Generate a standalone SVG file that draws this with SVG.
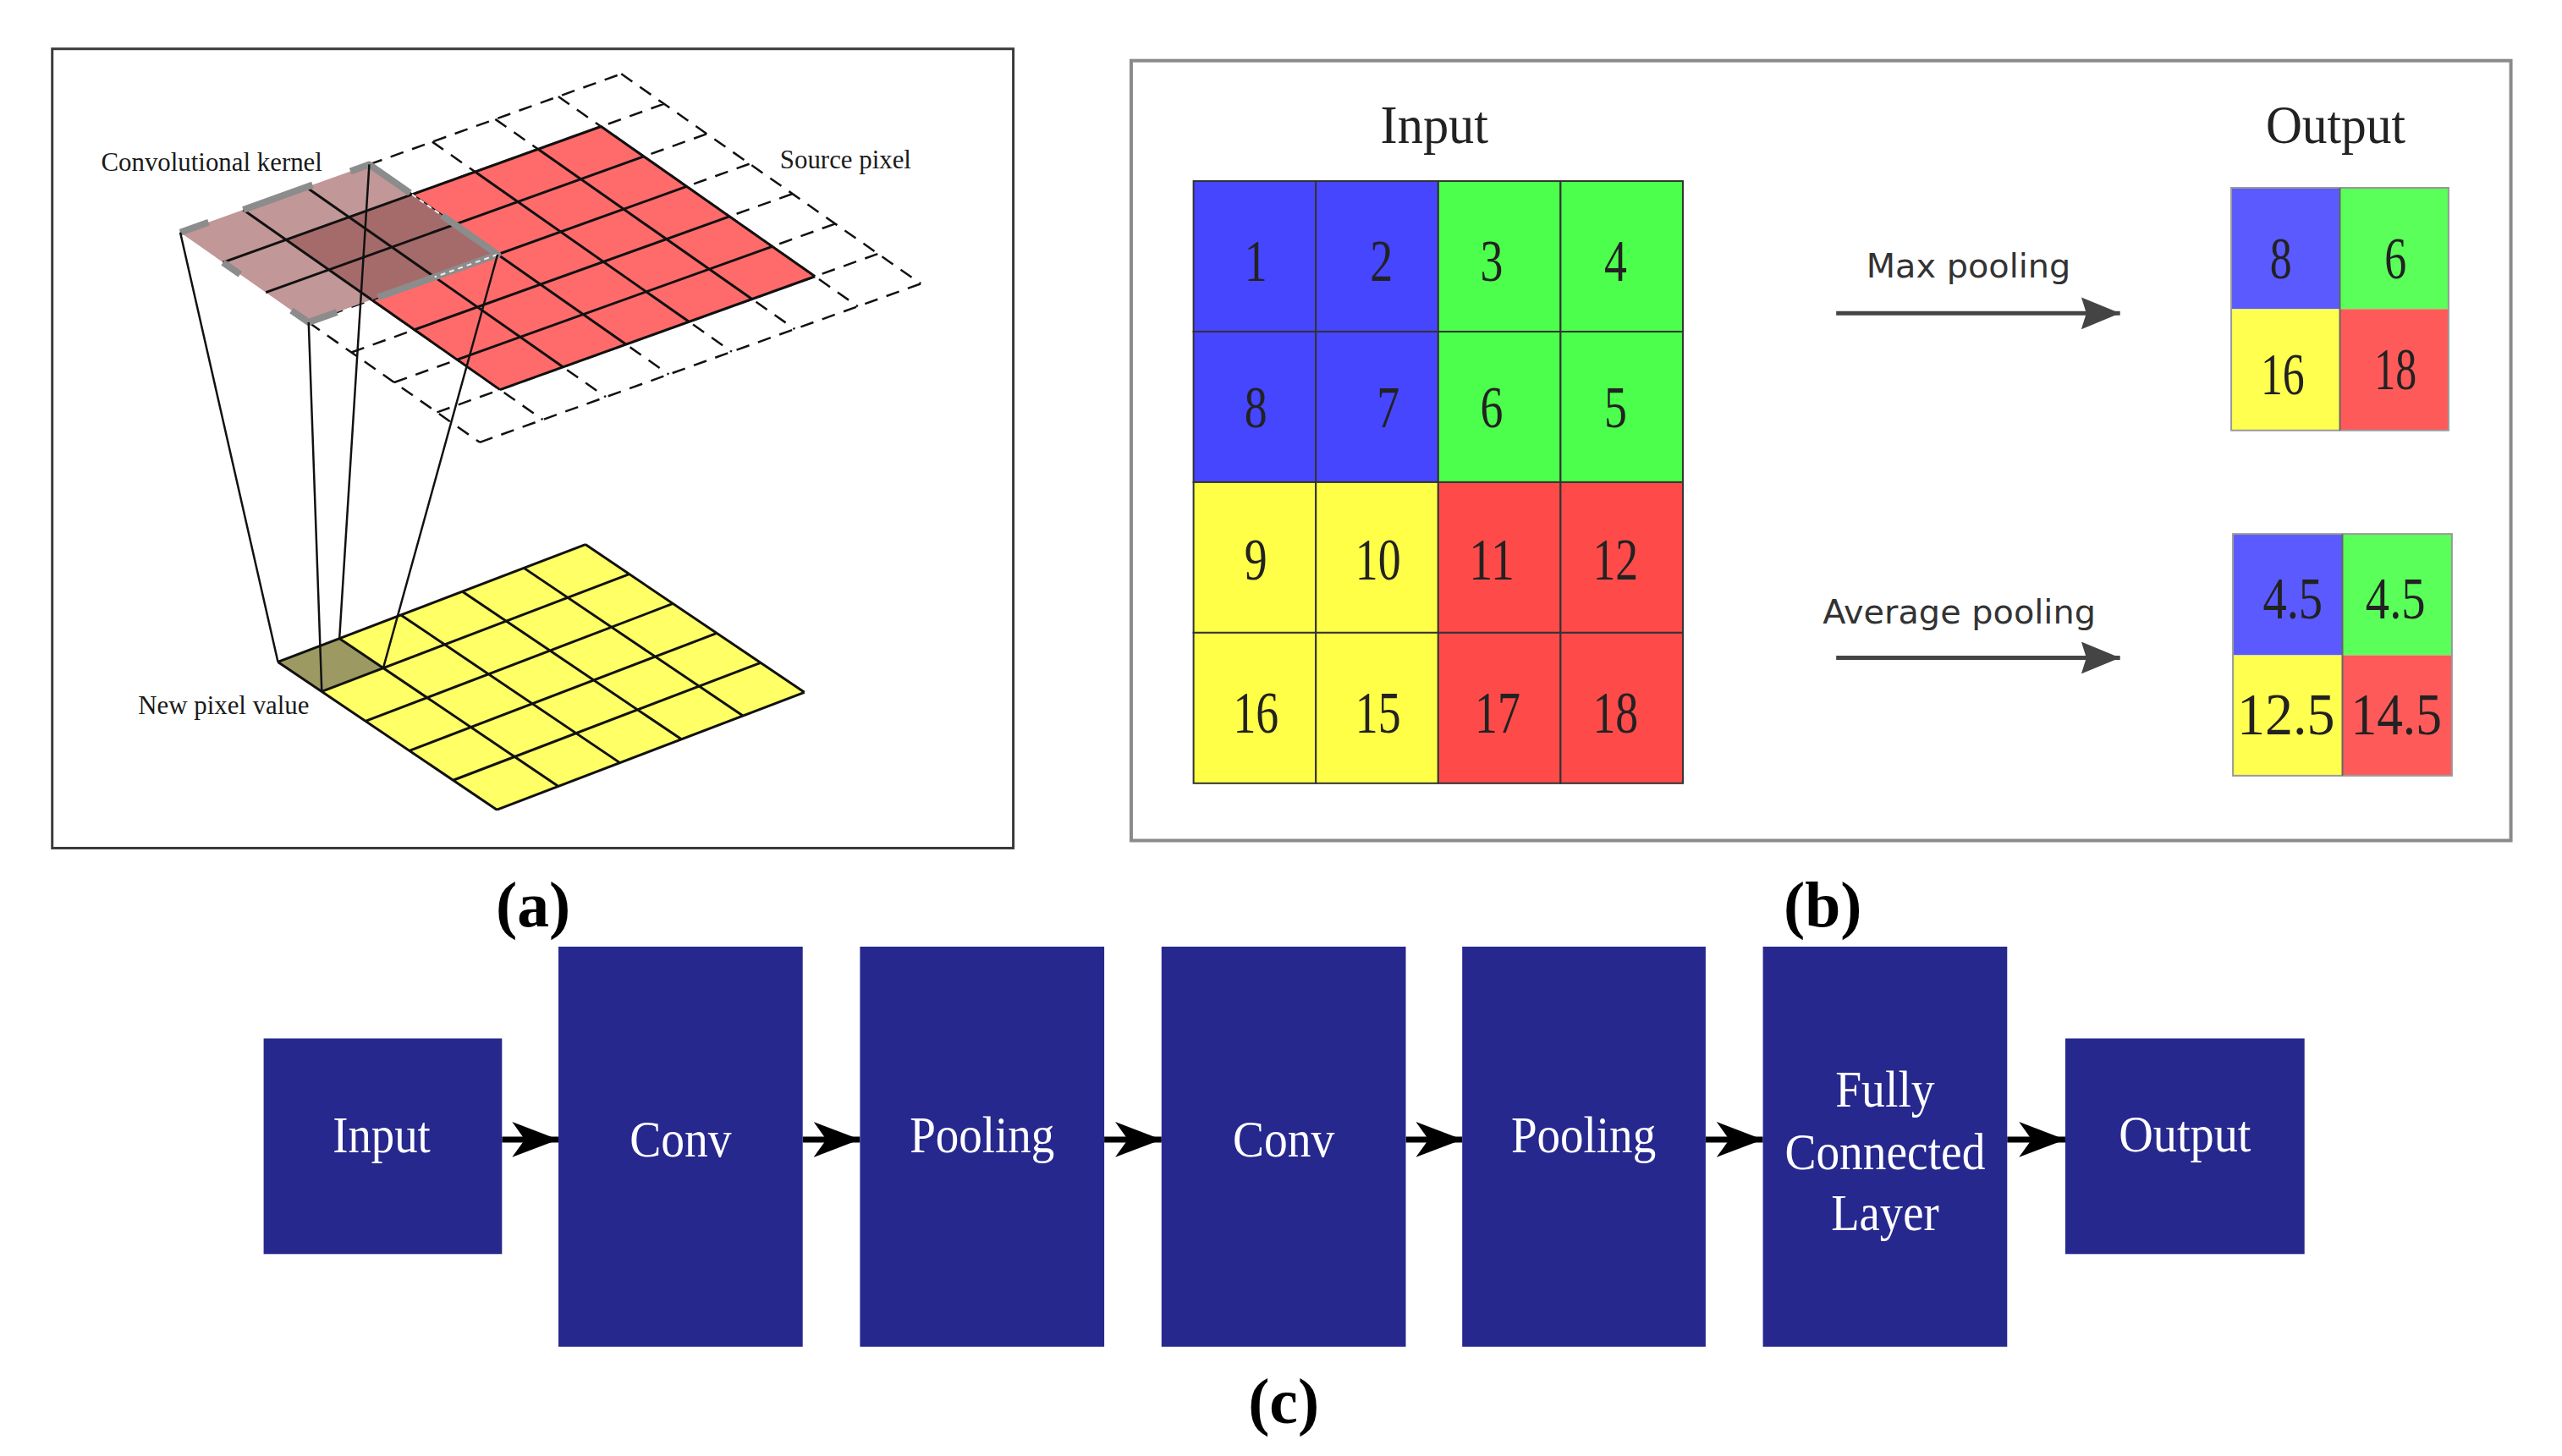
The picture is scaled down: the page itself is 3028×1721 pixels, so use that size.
<svg xmlns="http://www.w3.org/2000/svg" width="3028" height="1721" viewBox="0 0 3028 1721">
<style>
.dash{stroke:#111;stroke-width:2.5;stroke-dasharray:16 11;fill:none}
.solid{stroke:#111;stroke-width:3;fill:none}
.proj{stroke:#111;stroke-width:2.5;fill:none}
.gk{stroke:#8c8c8c;stroke-width:8;fill:none;stroke-linejoin:round}
.lbl{font-family:"Liberation Serif",serif;font-size:31px;fill:#1a1a1a}
.num{font-family:"Liberation Serif",serif;font-size:70px;fill:#222;text-anchor:middle}
.ttl{font-family:"Liberation Serif",serif;font-size:64px;fill:#222;text-anchor:middle}
.sans{font-family:"DejaVu Sans",sans-serif;font-size:40px;fill:#333;text-anchor:middle}
.cell{stroke:#333;stroke-width:2}
.box{fill:#26288e}
.btxt{font-family:"Liberation Serif",serif;font-size:62px;fill:#fff;text-anchor:middle}
.cap{font-family:"Liberation Serif",serif;font-size:76px;font-weight:bold;fill:#000;text-anchor:middle}
.arr{stroke:#000;stroke-width:7;fill:none}
.parr{stroke:#444;stroke-width:5;fill:none}
</style>
<defs>
<marker id="stealth" viewBox="0 0 55 42" refX="55" refY="21" markerWidth="55" markerHeight="42" markerUnits="userSpaceOnUse" orient="auto">
<path d="M0,0 L55,21 L0,42 L15,21 Z" fill="#000"/>
</marker>
<marker id="tri" viewBox="0 0 46 38" refX="46" refY="19" markerWidth="46" markerHeight="38" markerUnits="userSpaceOnUse" orient="auto">
<path d="M0,0 L46,19 L0,38 L6,19 Z" fill="#444"/>
</marker>
</defs>
<rect width="3028" height="1721" fill="#fff"/>
<g id="figure" transform="scale(0.9955)">

<!-- Panel (a) -->
<g id="panel-a">
<rect x="62" y="58" width="1141" height="949" fill="#fff" stroke="#3a3a3a" stroke-width="3"/>
<g id="source-grid">
<path class="dash" d="M438.4,195.3 L737.6,87.7 M264.8,311.6 L788.4,123.3 M315.6,347.2 L839.2,158.9 M366.4,382.8 L890,194.5 M417.2,418.4 L940.8,230.1 M468,454 L991.6,265.7 M518.8,489.6 L1042.4,301.3 M569.6,525.2 L1093.2,336.9 M366.4,382.8 L569.6,525.2 M288.8,249.1 L644.4,498.3 M363.6,222.2 L719.2,471.4 M438.4,195.3 L794,444.5 M513.2,168.4 L868.8,417.6 M588,141.5 L943.6,390.7 M662.8,114.6 L1018.4,363.8 M737.6,87.7 L1093.2,336.9"/>
<polygon points="339.6,284.7 713.6,150.2 967.6,328.2 593.6,462.7" fill="#ff6b6b"/>
<path class="solid" d="M339.6,284.7 L713.6,150.2 M390.4,320.3 L764.4,185.8 M441.2,355.9 L815.2,221.4 M492,391.5 L866,257 M542.8,427.1 L916.8,292.6 M593.6,462.7 L967.6,328.2 M339.6,284.7 L593.6,462.7 M414.4,257.8 L668.4,435.8 M489.2,230.9 L743.2,408.9 M564,204 L818,382 M638.8,177.1 L892.8,355.1 M713.6,150.2 L967.6,328.2"/>
</g>
<g id="kernel">
<polygon points="214,276 438.4,195.3 590.8,302.1 366.4,382.8" fill="#c19797"/>
<polygon points="339.6,284.7 489.2,230.9 590.8,302.1 441.2,355.9" fill="#a56b6b"/>
<path class="solid" d="M264.8,311.6 L489.2,230.9 M315.6,347.2 L540,266.5 M288.8,249.1 L441.2,355.9 M363.6,222.2 L516,329"/>
<path class="gk" d="M214,276 L247.7,263.9 M264.8,311.6 L285.1,325.8 M288.8,249.1 L371.1,219.5 M416,203.4 L438.4,195.3 L486.7,229.1 M524.8,255.8 L590.8,302.1 L448.7,353.1 M346.1,368.6 L366.4,382.8 L400.1,370.7"/>
<path d="M489.2,230.9 L524.8,255.8 M590.8,302.1 L516,329" stroke="#eee" stroke-width="2" stroke-dasharray="6 5" fill="none"/>
</g>
<g id="output-grid">
<polygon points="330,786 695,646.5 955,822 590,961.5" fill="#ffff66"/>
<polygon points="330,786 403,758.1 455,793.2 382,821.1" fill="#9c9a62"/>
<path class="solid" d="M330,786 L695,646.5 M382,821.1 L747,681.6 M434,856.2 L799,716.7 M486,891.3 L851,751.8 M538,926.4 L903,786.9 M590,961.5 L955,822 M330,786 L590,961.5 M403,758.1 L663,933.6 M476,730.2 L736,905.7 M549,702.3 L809,877.8 M622,674.4 L882,849.9 M695,646.5 L955,822"/>
</g>
<path class="proj" d="M214,276 L330,786 M438.4,195.3 L403,758.1 M366.4,382.8 L382,821.1 M590.8,302.1 L455,793.2"/>
<text class="lbl" x="120" y="203">Convolutional kernel</text>
<text class="lbl" x="926" y="200">Source pixel</text>
<text class="lbl" x="164" y="848">New pixel value</text>
</g>

<!-- Panel (b) -->
<g id="panel-b">
<rect x="1343" y="72" width="1638" height="926" fill="#fff" stroke="#8a8a8a" stroke-width="4"/>
<text class="ttl" x="1703" y="170" textLength="128" lengthAdjust="spacingAndGlyphs">Input</text>
<text class="ttl" x="2773" y="170" textLength="166" lengthAdjust="spacingAndGlyphs">Output</text>
<g id="input-grid">
<rect class="cell" x="1417" y="215" width="145.25" height="178.75" fill="#4646ff"/>
<rect class="cell" x="1562.25" y="215" width="145.25" height="178.75" fill="#4646ff"/>
<rect class="cell" x="1707.5" y="215" width="145.25" height="178.75" fill="#4cff4c"/>
<rect class="cell" x="1852.75" y="215" width="145.25" height="178.75" fill="#4cff4c"/>
<rect class="cell" x="1417" y="393.75" width="145.25" height="178.75" fill="#4646ff"/>
<rect class="cell" x="1562.25" y="393.75" width="145.25" height="178.75" fill="#4646ff"/>
<rect class="cell" x="1707.5" y="393.75" width="145.25" height="178.75" fill="#4cff4c"/>
<rect class="cell" x="1852.75" y="393.75" width="145.25" height="178.75" fill="#4cff4c"/>
<rect class="cell" x="1417" y="572.5" width="145.25" height="178.75" fill="#ffff47"/>
<rect class="cell" x="1562.25" y="572.5" width="145.25" height="178.75" fill="#ffff47"/>
<rect class="cell" x="1707.5" y="572.5" width="145.25" height="178.75" fill="#ff4a4a"/>
<rect class="cell" x="1852.75" y="572.5" width="145.25" height="178.75" fill="#ff4a4a"/>
<rect class="cell" x="1417" y="751.25" width="145.25" height="178.75" fill="#ffff47"/>
<rect class="cell" x="1562.25" y="751.25" width="145.25" height="178.75" fill="#ffff47"/>
<rect class="cell" x="1707.5" y="751.25" width="145.25" height="178.75" fill="#ff4a4a"/>
<rect class="cell" x="1852.75" y="751.25" width="145.25" height="178.75" fill="#ff4a4a"/>
<text class="num" x="1491" y="334" textLength="27" lengthAdjust="spacingAndGlyphs">1</text>
<text class="num" x="1640" y="334" textLength="27" lengthAdjust="spacingAndGlyphs">2</text>
<text class="num" x="1771" y="334" textLength="27" lengthAdjust="spacingAndGlyphs">3</text>
<text class="num" x="1918" y="334" textLength="27" lengthAdjust="spacingAndGlyphs">4</text>
<text class="num" x="1491" y="507" textLength="27" lengthAdjust="spacingAndGlyphs">8</text>
<text class="num" x="1648" y="507" textLength="27" lengthAdjust="spacingAndGlyphs">7</text>
<text class="num" x="1771" y="507" textLength="27" lengthAdjust="spacingAndGlyphs">6</text>
<text class="num" x="1918" y="507" textLength="27" lengthAdjust="spacingAndGlyphs">5</text>
<text class="num" x="1491" y="688" textLength="27" lengthAdjust="spacingAndGlyphs">9</text>
<text class="num" x="1636" y="688" textLength="54" lengthAdjust="spacingAndGlyphs">10</text>
<text class="num" x="1771" y="688" textLength="54" lengthAdjust="spacingAndGlyphs">11</text>
<text class="num" x="1918" y="688" textLength="54" lengthAdjust="spacingAndGlyphs">12</text>
<text class="num" x="1491" y="870" textLength="54" lengthAdjust="spacingAndGlyphs">16</text>
<text class="num" x="1636" y="870" textLength="54" lengthAdjust="spacingAndGlyphs">15</text>
<text class="num" x="1778" y="870" textLength="54" lengthAdjust="spacingAndGlyphs">17</text>
<text class="num" x="1918" y="870" textLength="54" lengthAdjust="spacingAndGlyphs">18</text>
</g>
<g id="max-output">
<rect x="2649" y="223" width="129" height="144" fill="#5a5aff"/>
<rect x="2778" y="223" width="129" height="144" fill="#5aff5a"/>
<rect x="2649" y="367" width="129" height="144" fill="#ffff50"/>
<rect x="2778" y="367" width="129" height="144" fill="#ff5a5a"/>
<rect x="2649" y="223" width="258" height="288" fill="none" stroke="#999" stroke-width="2"/>
<line x1="2778" y1="223" x2="2778" y2="511" stroke="#666" stroke-width="2"/>
<text class="num" x="2708" y="330" textLength="26" lengthAdjust="spacingAndGlyphs">8</text>
<text class="num" x="2844" y="330" textLength="26" lengthAdjust="spacingAndGlyphs">6</text>
<text class="num" x="2710" y="468" textLength="52" lengthAdjust="spacingAndGlyphs">16</text>
<text class="num" x="2844" y="462" textLength="50" lengthAdjust="spacingAndGlyphs">18</text>
</g>
<g id="avg-output">
<rect x="2651" y="634" width="130" height="144" fill="#5a5aff"/>
<rect x="2781" y="634" width="130" height="144" fill="#5aff5a"/>
<rect x="2651" y="778" width="130" height="143" fill="#ffff50"/>
<rect x="2781" y="778" width="130" height="143" fill="#ff5a5a"/>
<rect x="2651" y="634" width="260" height="287" fill="none" stroke="#999" stroke-width="2"/>
<line x1="2781" y1="634" x2="2781" y2="921" stroke="#666" stroke-width="2"/>
<text class="num" x="2722" y="734" textLength="71" lengthAdjust="spacingAndGlyphs">4.5</text>
<text class="num" x="2844" y="734" textLength="71" lengthAdjust="spacingAndGlyphs">4.5</text>
<text class="num" x="2714" y="872" textLength="116" lengthAdjust="spacingAndGlyphs">12.5</text>
<text class="num" x="2845" y="872" textLength="108" lengthAdjust="spacingAndGlyphs">14.5</text>
</g>
<g id="pool-arrows">
<line class="parr" x1="2180" y1="372" x2="2517" y2="372" marker-end="url(#tri)"/>
<line class="parr" x1="2180" y1="781" x2="2517" y2="781" marker-end="url(#tri)"/>
</g>
<text class="sans" x="2337" y="329">Max pooling</text>
<text class="sans" x="2326" y="740">Average pooling</text>
</g>

<text class="cap" x="633" y="1100">(a)</text>
<text class="cap" x="2164" y="1100">(b)</text>

<!-- Panel (c) -->
<g id="panel-c">
<g id="connectors">
<line class="arr" x1="596" y1="1353" x2="663" y2="1353" marker-end="url(#stealth)"/>
<line class="arr" x1="953" y1="1353" x2="1021" y2="1353" marker-end="url(#stealth)"/>
<line class="arr" x1="1311" y1="1353" x2="1379" y2="1353" marker-end="url(#stealth)"/>
<line class="arr" x1="1669" y1="1353" x2="1736" y2="1353" marker-end="url(#stealth)"/>
<line class="arr" x1="2025" y1="1353" x2="2093" y2="1353" marker-end="url(#stealth)"/>
<line class="arr" x1="2383" y1="1353" x2="2452" y2="1353" marker-end="url(#stealth)"/>
</g>
<g id="node-input"><rect class="box" x="313" y="1233" width="283" height="256"/><text class="btxt" x="453" y="1368" textLength="116" lengthAdjust="spacingAndGlyphs">Input</text></g>
<g id="node-conv1"><rect class="box" x="663" y="1124" width="290" height="475"/><text class="btxt" x="808" y="1373" textLength="121" lengthAdjust="spacingAndGlyphs">Conv</text></g>
<g id="node-pool1"><rect class="box" x="1021" y="1124" width="290" height="475"/><text class="btxt" x="1166" y="1368" textLength="172" lengthAdjust="spacingAndGlyphs">Pooling</text></g>
<g id="node-conv2"><rect class="box" x="1379" y="1124" width="290" height="475"/><text class="btxt" x="1524" y="1373" textLength="121" lengthAdjust="spacingAndGlyphs">Conv</text></g>
<g id="node-pool2"><rect class="box" x="1736" y="1124" width="289" height="475"/><text class="btxt" x="1880" y="1368" textLength="172" lengthAdjust="spacingAndGlyphs">Pooling</text></g>
<g id="node-fc"><rect class="box" x="2093" y="1124" width="290" height="475"/><text class="btxt" x="2238" y="1314" textLength="118" lengthAdjust="spacingAndGlyphs">Fully</text><text class="btxt" x="2238" y="1388" textLength="238" lengthAdjust="spacingAndGlyphs">Connected</text><text class="btxt" x="2238" y="1461" textLength="128" lengthAdjust="spacingAndGlyphs">Layer</text></g>
<g id="node-output"><rect class="box" x="2452" y="1233" width="284" height="256"/><text class="btxt" x="2594" y="1367" textLength="157" lengthAdjust="spacingAndGlyphs">Output</text></g>
</g>
<text class="cap" x="1524" y="1690">(c)</text>
</g>
</svg>
